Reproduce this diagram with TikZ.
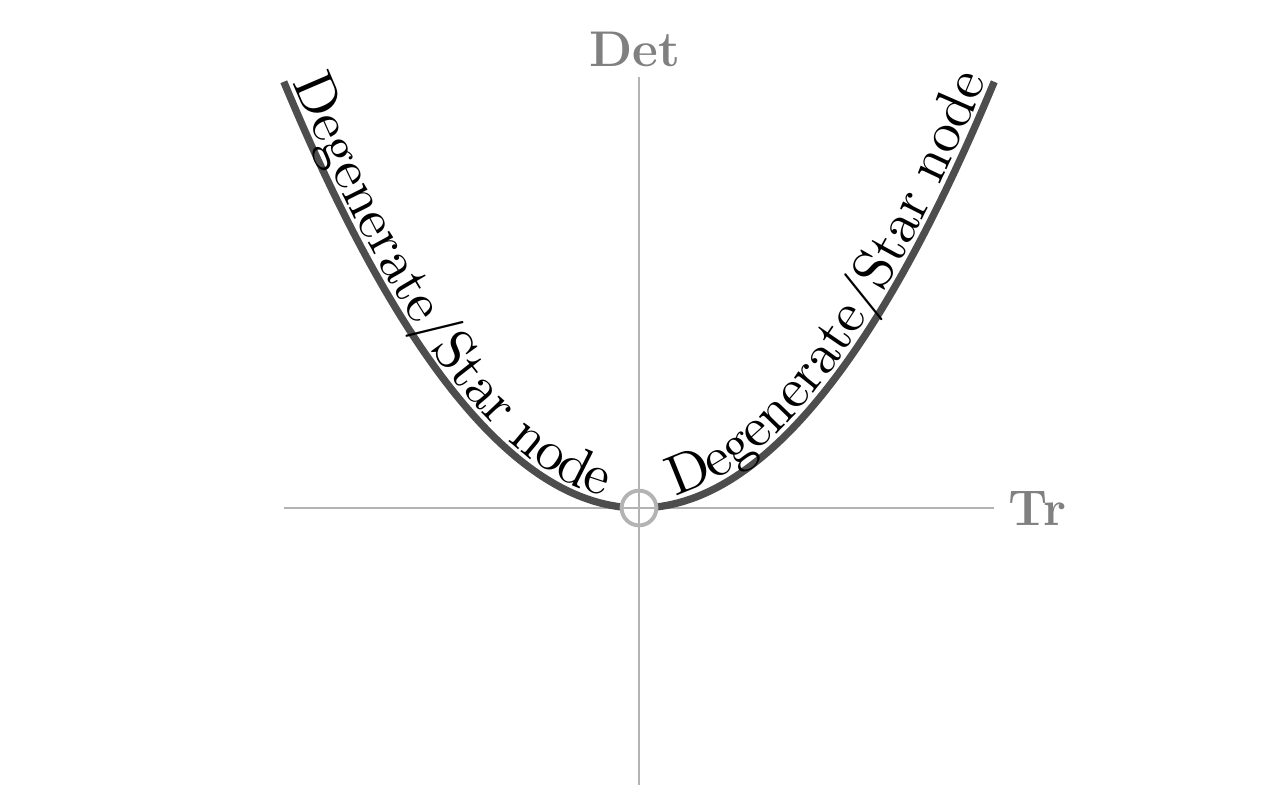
\documentclass[tikz,border=0pt]{standalone}
\usetikzlibrary{decorations.text}
\definecolor{axisgray}{HTML}{B3B3B3}
\definecolor{curvegray}{HTML}{4D4D4D}
\definecolor{labelgray}{HTML}{808080}
\font\curvefont=cmr10 at 21.6pt
\begin{document}
\begin{tikzpicture}[x=1cm,y=1cm,
  axis/.style={draw=axisgray, line width=0.8pt},
  curve/.style={draw=curvegray, line width=2.8pt},
  axlabel/.style={text=labelgray, font=\fontsize{19.3}{23}\selectfont\bfseries},
  origincircle/.style={circle, draw=axisgray, fill=white, line width=1.5pt, minimum size=0.47cm, inner sep=0pt}]
\useasboundingbox (-8.635,-4.081) rectangle (8.689,6.865);
\coordinate (xl) at (-4.8,0);
\coordinate (xr) at (4.8,0);
\coordinate (yb) at (0,-3.74);
\coordinate (yt) at (0,5.82);
\coordinate (O) at (0,0);
\coordinate (L) at (-4.8,5.76);
\coordinate (R) at (4.8,5.76);
\draw[axis] (xl) -- (xr);
\draw[axis] (yb) -- (yt);
\node[axlabel, anchor=west, xshift=2pt] (tr) at (xr) {Tr};
\node[axlabel, anchor=south, xshift=-1.5pt, inner sep=4pt] (det) at (yt) {Det};
\draw[curve] (L) .. controls (-3.2,1.92) and (-1.6,0) .. (O)
  .. controls (1.6,0) and (3.2,1.92) .. (R);
\path[decorate, decoration={text along path, text={|\curvefont|Degenerate/Star node}, text align={left, left indent=0.05cm}, raise=3pt}]
  (L) .. controls (-3.2,1.92) and (-1.6,0) .. (O);
\path[decorate, decoration={text along path, text={|\curvefont|Degenerate/Star node}, text align={right, right indent=0.02cm}, raise=3pt}]
  (O) .. controls (1.6,0) and (3.2,1.92) .. (R);
\node[origincircle] (oc) at (O) {};
\draw[axis] (oc.west) -- (oc.east);
\draw[axis] (oc.south) -- (oc.north);
\end{tikzpicture}
\end{document}
